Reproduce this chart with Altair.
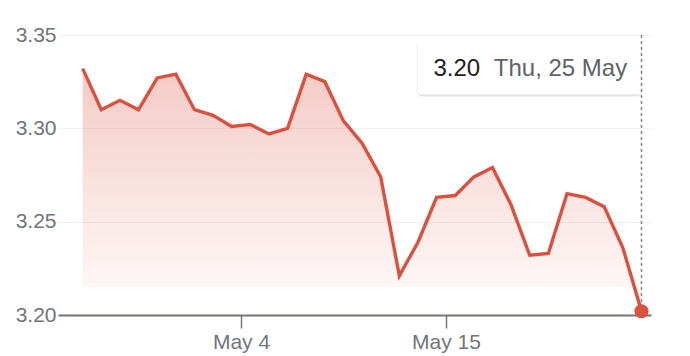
import altair as alt
import pandas as pd

# Daily closing values, 25 Apr - 25 May 2023 (sampled at midday UTC)
DAYS = [
    "2023-04-25", "2023-04-26", "2023-04-27", "2023-04-28", "2023-04-29",
    "2023-04-30", "2023-05-01", "2023-05-02", "2023-05-03", "2023-05-04",
    "2023-05-05", "2023-05-06", "2023-05-07", "2023-05-08", "2023-05-09",
    "2023-05-10", "2023-05-11", "2023-05-12", "2023-05-13", "2023-05-14",
    "2023-05-15", "2023-05-16", "2023-05-17", "2023-05-18", "2023-05-19",
    "2023-05-20", "2023-05-21", "2023-05-22", "2023-05-23", "2023-05-24",
    "2023-05-25",
]
VALUES = [
    3.332, 3.310, 3.315, 3.310, 3.327,
    3.329, 3.310, 3.307, 3.301, 3.302,
    3.297, 3.300, 3.329, 3.325, 3.304,
    3.292, 3.274, 3.221, 3.239, 3.263,
    3.264, 3.274, 3.279, 3.259, 3.232,
    3.233, 3.265, 3.263, 3.258, 3.236,
    3.202,
]
Y_TICKS = [3.20, 3.25, 3.30, 3.35]

RED = "#d9513f"
AXIS_GREY = "#70757a"
FONT = "Liberation Sans"
FILL_FLOOR = 3.215  # where the gradient fill fades out

df = pd.DataFrame({
    "date": [d + "T12:00:00Z" for d in DAYS],
    "value": VALUES,
})
df["floor"] = FILL_FLOOR
last = df.tail(1).copy()
last["top"] = Y_TICKS[-1]

x_scale = alt.Scale(
    type="utc",
    domain=[
        alt.DateTime(year=2023, month=4, date=24, hours=4, minutes=12, utc=True),
        alt.DateTime(year=2023, month=5, date=26, hours=0, minutes=15, utc=True),
    ],
)
y_scale = alt.Scale(domain=[Y_TICKS[0], Y_TICKS[-1]], zero=False, nice=False)

x_axis = alt.Axis(
    title=None,
    values=[
        alt.DateTime(year=2023, month=5, date=4, utc=True),
        alt.DateTime(year=2023, month=5, date=15, utc=True),
    ],
    labelExpr="utcFormat(datum.value, '%b %-d')",
    grid=False,
    domainColor=AXIS_GREY,
    domainWidth=2,
    tickColor=AXIS_GREY,
    tickWidth=1.5,
    tickSize=13,
    labelFontSize=21,
    labelFont=FONT,
    labelColor=AXIS_GREY,
    labelPadding=3,
)
y_axis = alt.Axis(
    title=None,
    values=Y_TICKS,
    format=".2f",
    domain=False,
    ticks=False,
    grid=True,
    gridColor="#f1f1f1",
    gridWidth=1.2,
    labelFontSize=21,
    labelFont=FONT,
    labelColor=AXIS_GREY,
    labelPadding=2,
)

X = alt.X("date:T", scale=x_scale, axis=x_axis)
Y = alt.Y("value:Q", scale=y_scale, axis=y_axis)
Y_TOP = alt.Y("top:Q", scale=y_scale, axis=y_axis)

base = alt.Chart(df)

area = base.mark_area(
    color=alt.Gradient(
        gradient="linear",
        x1=0, y1=0, x2=0, y2=1,
        stops=[
            alt.GradientStop(color="rgba(217,81,63,0.30)", offset=0),
            alt.GradientStop(color="rgba(217,81,63,0.02)", offset=1),
        ],
    ),
).encode(x=X, y=Y, y2="floor:Q")

line = base.mark_line(color=RED, strokeWidth=3.4, strokeJoin="miter").encode(x=X, y=Y)

# Hover readout for the latest value
tip = alt.Chart(last).transform_calculate(
    day_label="utcFormat(toDate(datum.date), '%a, %-d %b')"
)


def panel(offsets, **style):
    x0, x1, y0, y1 = offsets
    return tip.mark_rect(
        xOffset=x0, x2Offset=x1, yOffset=y0, y2Offset=y1, **style
    ).encode(x=X, x2="date:T", y=Y_TOP, y2="top:Q")


shadow_outer = panel((-225, 1, 5, 62), color="#000000", opacity=0.05, cornerRadius=6)
shadow_inner = panel((-224, 0, 5, 60.6), color="#000000", opacity=0.10, cornerRadius=5)
box = panel((-224, 0, 4.3, 59.6), color="#ffffff", cornerRadius=4)

value_text = tip.mark_text(
    align="left", baseline="alphabetic", dx=-208, dy=41,
    fontSize=24, font=FONT, color="#202124",
).encode(x=X, y=Y_TOP, text=alt.Text("value:Q", format=".2f"))
date_text = tip.mark_text(
    align="left", baseline="alphabetic", dx=-147.7, dy=41,
    fontSize=24, font=FONT, color="#5f6368",
).encode(x=X, y=Y_TOP, text="day_label:N")

crosshair = tip.mark_rule(
    color="#80868b", strokeWidth=1.5, strokeDash=[3, 3],
).encode(x=X, y=Y_TOP, y2="value:Q")

dot = tip.mark_point(
    filled=True, shape="circle", size=200, color=RED, opacity=1,
).encode(x=X, y=Y)

chart = (
    alt.layer(area, line, shadow_outer, shadow_inner, box, value_text,
              date_text, crosshair, dot)
    .properties(
        width=593,
        height=280,
        padding={"left": 58, "top": 35, "right": 39, "bottom": 41},
        autosize=alt.AutoSizeParams(type="none"),
    )
    .configure_view(stroke=None)
)

chart.save("out.html", embed_options={"renderer": "svg", "actions": False})
